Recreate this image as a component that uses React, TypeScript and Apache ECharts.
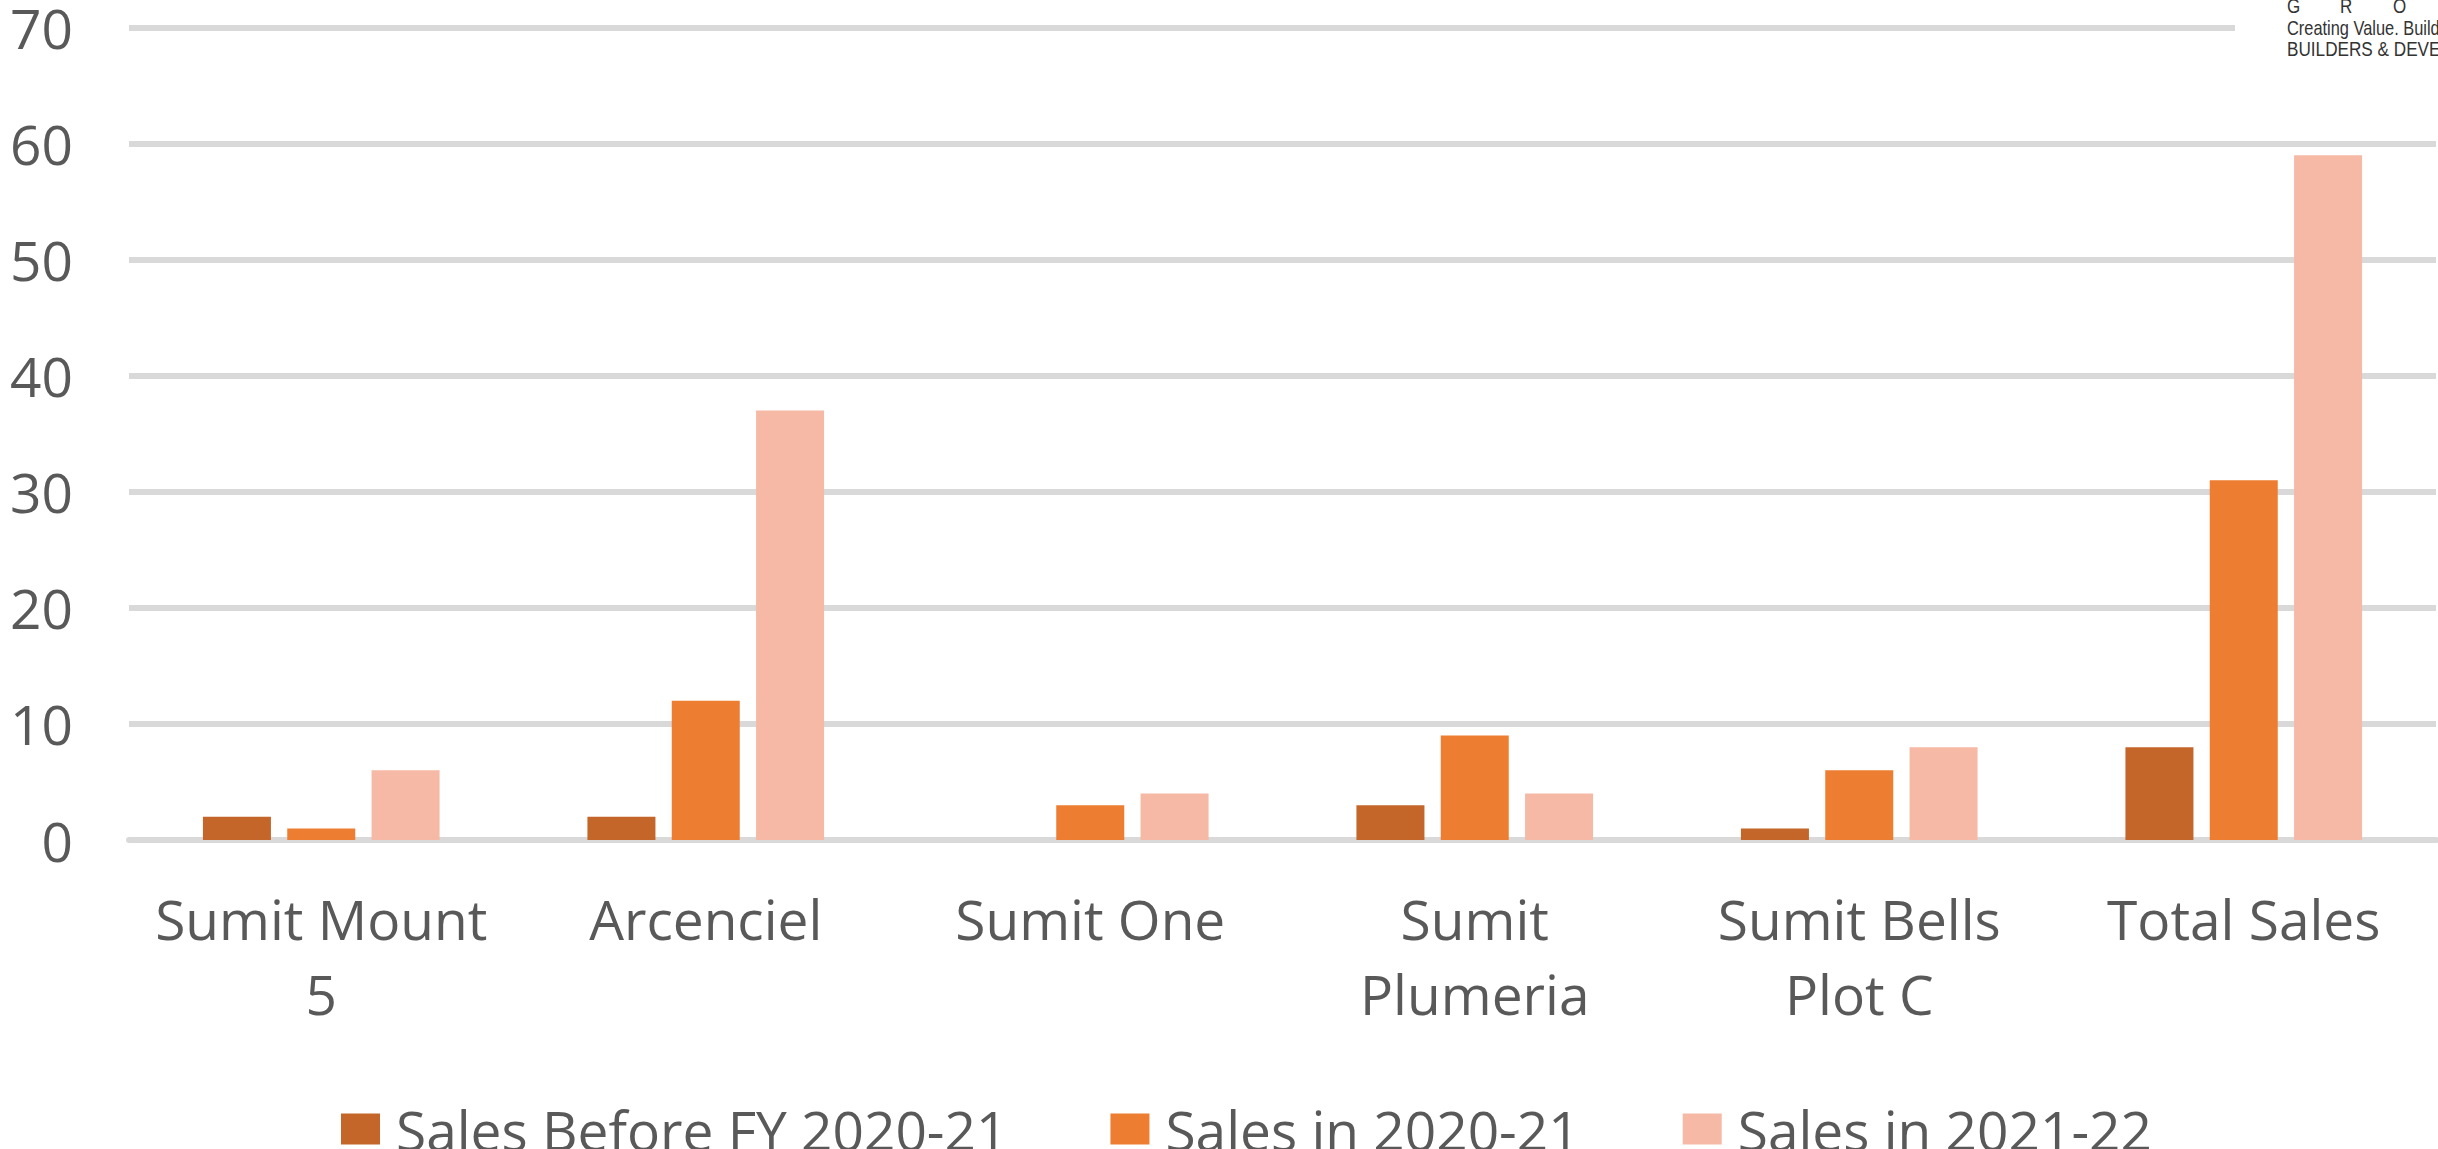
import React, { useEffect, useRef } from "react";
import * as echarts from "echarts";

const categories = ["Sumit Mount 5", "Arcenciel", "Sumit One", "Sumit Plumeria", "Sumit Bells Plot C", "Total Sales"];
const categoryLabels = ["Sumit Mount\n5", "Arcenciel", "Sumit One", "Sumit\nPlumeria", "Sumit Bells\nPlot C", "Total Sales"];
const seriesNames = ["Sales Before FY 2020-21", "Sales in 2020-21", "Sales in 2021-22"];
const salesBefore = [2, 2, 0, 3, 1, 8];
const sales2021 = [1, 12, 3, 9, 6, 31];
const sales2122 = [6, 37, 4, 4, 8, 59];
const yTicks = { min: 0, max: 70, interval: 10 };
const logoLetters = ["G", "R", "O"];
const logoLines = ["Creating Value. Build", "BUILDERS & DEVE"];

const colors = ["#C4652A", "#ED7D31", "#F5B9A6"];
const textColor = "#595959";
const font = "'Open Sans', 'Liberation Sans', sans-serif";
const logoFont = "'Liberation Sans Narrow', 'Liberation Sans', Arial, sans-serif";

export default function App() {
  const ref = useRef<HTMLDivElement>(null);
  useEffect(() => {
    if (!ref.current) return;
    const chart = echarts.init(ref.current, undefined, { renderer: "svg" });
    const values = [salesBefore, sales2021, sales2122];
    chart.setOption({
      animation: false,
      backgroundColor: "#ffffff",
      textStyle: { fontFamily: font },
      grid: { left: 129, right: 2, top: 27, bottom: 309, containLabel: false },
      legend: {
        left: 336,
        top: 1094,
        itemWidth: 39,
        itemHeight: 31,
        itemGap: 103,
        icon: "rect",
        data: seriesNames,
        textStyle: {
          color: textColor,
          fontSize: 55,
          fontFamily: font,
          lineHeight: 60,
          padding: [0, 0, 0, 11],
        },
      },
      xAxis: {
        type: "category",
        data: categories,
        axisTick: { show: false },
        axisLine: { show: true, lineStyle: { color: "#D9D9D9", width: 6 } },
        axisLabel: {
          color: textColor,
          fontSize: 55,
          fontFamily: font,
          lineHeight: 75,
          margin: 41,
          interval: 0,
          formatter: (v: string) => categoryLabels[categories.indexOf(v)] ?? v,
        },
      },
      yAxis: {
        type: "value",
        min: yTicks.min,
        max: yTicks.max,
        interval: yTicks.interval,
        axisLine: { show: false },
        axisTick: { show: false },
        splitLine: { show: true, lineStyle: { color: "#D9D9D9", width: 6 } },
        axisLabel: { color: textColor, fontSize: 55, fontFamily: font, margin: 56, padding: [0, 0, 6, 0] },
      },
      series: seriesNames.map((name, i) => ({
        name,
        type: "bar",
        data: values[i],
        barWidth: 68,
        barGap: "24%",
        itemStyle: { color: colors[i] },
      })),
      graphic: [
        { type: "rect", left: 2235, top: 0, shape: { width: 203, height: 64 }, style: { fill: "#ffffff" }, z: 100 },
        ...logoLetters.map((l, i) => ({
          type: "text",
          x: 2287 + i * 53,
          y: 16,
          scaleX: 0.85,
          z: 101,
          style: {
            text: l,
            fill: "#333333",
            font: `20px ${logoFont}`,
            verticalAlign: "bottom",
          },
        })),
        ...logoLines.map((t, i) => ({
          type: "text",
          x: 2287,
          y: 38 + i * 21.5,
          scaleX: i === 0 ? 0.82 : 0.88,
          z: 101,
          style: {
            text: t,
            fill: "#333333",
            font: `${i === 0 ? 20 : 19.5}px ${logoFont}`,
            verticalAlign: "bottom",
          },
        })),
      ],
    });
    return () => chart.dispose();
  }, []);
  return <div ref={ref} style={{ position: "fixed", left: 0, top: 0, width: 2438, height: 1149 }} />;
}
